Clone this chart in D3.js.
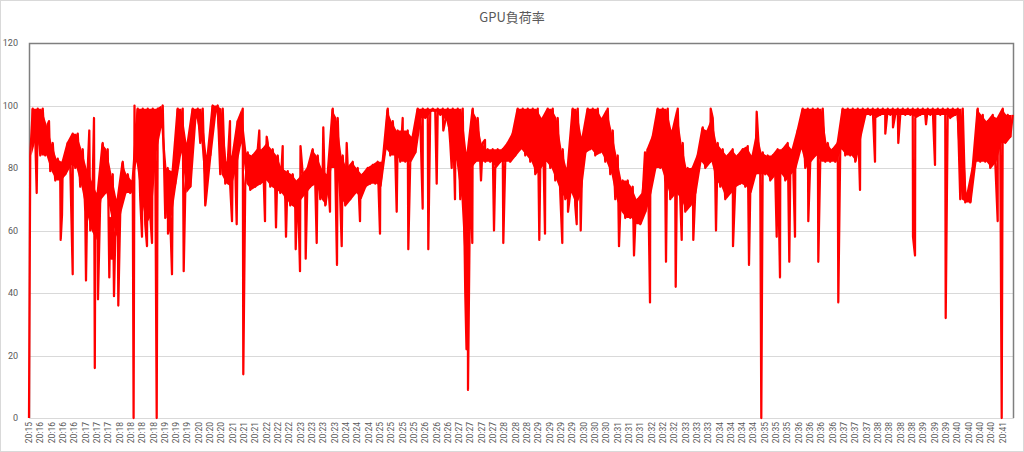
<!DOCTYPE html>
<html>
<head>
<meta charset="utf-8">
<script src="https://cdn.jsdelivr.net/npm/d3@7/dist/d3.min.js"></script>
<style>
  html, body { margin: 0; padding: 0; background: #fff; }
  svg { display: block; }
</style>
</head>
<body>
<svg id="chart" width="1024" height="452"></svg>
<script>
// category labels along the x axis (one every ~18 s)
var timeLabels = [
	'20:15',
	'20:16', '20:16', '20:16', '20:16',
	'20:17', '20:17', '20:17',
	'20:18', '20:18', '20:18', '20:18',
	'20:19', '20:19', '20:19',
	'20:20', '20:20', '20:20',
	'20:21', '20:21', '20:21',
	'20:22', '20:22', '20:22',
	'20:23', '20:23', '20:23', '20:23',
	'20:24', '20:24', '20:24',
	'20:25', '20:25', '20:25', '20:25',
	'20:26', '20:26', '20:26',
	'20:27', '20:27', '20:27', '20:27',
	'20:28', '20:28', '20:28',
	'20:29', '20:29', '20:29', '20:29',
	'20:30', '20:30', '20:30',
	'20:31', '20:31', '20:31',
	'20:32', '20:32', '20:32',
	'20:33', '20:33', '20:33',
	'20:34', '20:34', '20:34', '20:34',
	'20:35', '20:35', '20:35',
	'20:36', '20:36', '20:36', '20:36',
	'20:37', '20:37', '20:37',
	'20:38', '20:38', '20:38', '20:38',
	'20:39', '20:39', '20:39',
	'20:40', '20:40', '20:40', '20:40',
	'20:41'
];

var yTicks = [0, 20, 40, 60, 80, 100, 120];

// GPU load: the dense core band (low / high) per time bin
var coreLow = [
	84, 90, 84, 84, 79, 76, 76, 78, 81, 80,
	74, 66, 60, 57, 70, 72, 64, 58, 66, 72,
	72, 82, 70, 62, 65, 85, 93, 64, 64, 75,
	85, 72, 74, 96, 88, 68, 84, 98, 78, 75,
	74, 80, 88, 75, 73, 74, 75, 76, 74, 73,
	72, 70, 68, 67, 70, 72, 74, 75, 70, 68,
	80, 80, 70, 68, 70, 72, 70, 74, 75, 75,
	74, 86, 84, 84, 82, 82, 82, 85, 96, 96,
	98, 98, 97, 95, 88, 82, 70, 40, 80, 82,
	82, 82, 82, 80, 82, 82, 82, 84, 86, 84,
	82, 78, 80, 82, 80, 76, 72, 70, 72, 68,
	72, 85, 86, 84, 85, 82, 78, 70, 66, 64,
	64, 62, 62, 66, 72, 80, 80, 75, 70, 72,
	70, 66, 68, 72, 82, 80, 82, 76, 74, 70,
	72, 74, 75, 74, 72, 78, 78, 78, 76, 78,
	78, 76, 78, 80, 86, 80, 82, 84, 82, 82,
	82, 82, 86, 84, 84, 82, 90, 97, 97, 96,
	97, 97, 97, 97, 97, 97, 97, 96, 97, 97,
	97, 97, 97, 97, 96, 97, 70, 69, 69, 82,
	82, 82, 80, 82, 88, 88, 90
];
var coreHigh = [
	99, 99, 99, 94, 88, 83, 82, 88, 91, 91,
	86, 80, 76, 72, 88, 86, 78, 70, 82, 78,
	76, 99, 99, 99, 99, 99, 100, 80, 79, 99,
	99, 88, 99, 99, 99, 84, 100, 100, 99, 82,
	84, 95, 99, 85, 84, 86, 86, 88, 86, 84,
	80, 79, 78, 76, 78, 80, 86, 84, 80, 78,
	99, 96, 84, 80, 82, 80, 78, 80, 81, 82,
	82, 99, 95, 92, 92, 92, 90, 99, 99, 99,
	99, 99, 99, 99, 99, 99, 99, 85, 99, 96,
	88, 86, 86, 86, 86, 88, 91, 99, 99, 99,
	99, 99, 96, 99, 99, 96, 86, 80, 99, 99,
	90, 99, 99, 99, 96, 99, 92, 84, 76, 76,
	74, 70, 72, 86, 90, 99, 99, 99, 92, 99,
	88, 80, 80, 84, 93, 92, 96, 88, 86, 84,
	86, 84, 86, 87, 84, 92, 85, 84, 84, 86,
	86, 88, 86, 92, 99, 99, 99, 99, 99, 88,
	86, 88, 99, 99, 99, 99, 99, 99, 99, 99,
	99, 99, 99, 99, 99, 99, 99, 99, 99, 99,
	99, 99, 99, 99, 99, 99, 99, 72, 80, 99,
	97, 95, 97, 96, 99, 97, 97
];

// isolated spikes: position (in bins) and value
var spikeAt = [
	0, 1.54, 4.0, 6.34, 6.6, 8.74, 11.4, 12.06, 13.0, 13.16,
	13.8, 16.06, 16.54, 17.0, 17.86, 20.92, 21.1, 22.6, 23.6, 24.6,
	25.54, 27.8, 28.6, 30.94, 40.2, 40.6, 41.54, 42.86, 46.06, 47.2,
	47.54, 49.4, 50.74, 51.4, 53.34, 54.2, 54.3, 55.34, 57.54, 58.86,
	60.2, 61.6, 62.54, 63.54, 66.2, 70.2, 73.54, 74.74, 75.86, 78.74,
	79.86, 81.54, 82.86, 84.54, 85.2, 87.5, 87.8, 88.66, 90.4, 91.2,
	93.0, 94.86, 102.06, 103.2, 106.66, 107.8, 109.54, 110.34, 118.0, 121.0,
	123.2, 124.2, 127.4, 129.34, 130.54, 132.86, 136.34, 137.4, 140.8, 144.0,
	145.54, 146.46, 149.54, 150.2, 152.06, 153.2, 155.86, 157.86, 161.86, 166.2,
	169.2, 171.26, 172.8, 173.86, 176.8, 177.2, 179.4, 181.2, 183.34, 193.74,
	194.54
];
var spikeVal = [
	0, 72, 95, 57, 65, 46, 44, 92, 96, 16,
	38, 45, 51, 39, 36, 0, 100, 58, 55, 56,
	0, 59, 46, 47, 95, 63, 62, 14, 92, 63,
	90, 61, 87, 58, 54, 47, 87, 51, 56, 93,
	66, 49, 55, 88, 63, 59, 66, 96, 54, 67,
	54, 75, 92, 80, 70, 22, 9, 56, 76, 89,
	60, 56, 57, 59, 56, 66, 62, 60, 55, 52,
	85, 37, 50, 42, 57, 57, 99, 60, 55, 49,
	98, 0, 58, 45, 50, 58, 63, 50, 37, 73,
	82, 91, 93, 88, 58, 52, 94, 81, 32, 63,
	0
];

var width = 1024, height = 452;
var plot = { left: 29, right: 1014, top: 43, bottom: 418 };
var textColor = '#595959';
var lineColor = '#ff0000';

var svg = d3.select('#chart');

// outer chart border
svg.append('rect')
	.attr('x', 0.5).attr('y', 0.5)
	.attr('width', width - 1).attr('height', height - 1)
	.attr('fill', '#fff')
	.attr('stroke', '#d9d9d9');

var nBins = coreLow.length;
// x in bins of the series; labels sit every ~2.264 bins
var x = d3.scaleLinear()
	.domain([0, nBins])
	.range([plot.left, plot.right]);
var labelX = d3.scaleLinear()
	.domain([0, (plot.right - plot.left) / 11.32])
	.range([plot.left, plot.right]);
var y = d3.scaleLinear()
	.domain([0, 120])
	.range([plot.bottom, plot.top]);

// gridlines
svg.append('g')
	.selectAll('line')
	.data(yTicks.filter(function (d) { return d > 0 && d < 120; }))
	.join('line')
	.attr('x1', plot.left).attr('x2', plot.right)
	.attr('y1', function (d) { return Math.round(y(d)) + 0.5; })
	.attr('y2', function (d) { return Math.round(y(d)) + 0.5; })
	.attr('stroke', '#d9d9d9')
	.attr('stroke-width', 1);

// bottom axis line
svg.append('line')
	.attr('x1', plot.left).attr('x2', plot.right)
	.attr('y1', plot.bottom + 0.5).attr('y2', plot.bottom + 0.5)
	.attr('stroke', '#d9d9d9');

// plot area frame (top, left, right are dark)
svg.append('path')
	.attr('d', 'M' + (plot.left + 0.5) + ',' + plot.bottom +
		'V' + (plot.top + 0.5) + 'H' + (plot.right - 0.5) + 'V' + plot.bottom)
	.attr('fill', 'none')
	.attr('stroke', '#7f7f7f')
	.attr('stroke-width', 1.5);

// y labels
svg.append('g')
	.selectAll('text')
	.data(yTicks)
	.join('text')
	.attr('x', 18)
	.attr('y', function (d) { return y(d) + 3; })
	.attr('text-anchor', 'end')
	.attr('font-family', 'Roboto, "Noto Sans", sans-serif')
	.attr('font-size', 9)
	.attr('fill', textColor)
	.text(function (d) { return d; });

// x labels, rotated
svg.append('g')
	.selectAll('text')
	.data(timeLabels)
	.join('text')
	.attr('transform', function (d, i) {
		return 'translate(' + (labelX(i) + 3) + ',' + (plot.bottom + 4) + ') rotate(-90)';
	})
	.attr('text-anchor', 'end')
	.attr('font-family', '"Liberation Sans Narrow", Roboto, sans-serif')
	.attr('font-size', 8.5)
	.attr('fill', textColor)
	.text(function (d) { return d; });

// title
svg.append('text')
	.attr('x', width / 2)
	.attr('y', 22)
	.attr('text-anchor', 'middle')
	.attr('font-family', '"Noto Sans CJK JP", "Noto Sans", sans-serif')
	.attr('font-size', 13)
	.attr('fill', textColor)
	.text('GPU負荷率');

// dense core: filled band between low and high
var bins = coreLow.map(function (lo, i) { return { t: i + 0.5, lo: lo, hi: coreHigh[i] }; });
var band = d3.area()
	.x(function (d) { return x(d.t); })
	.y0(function (d) { return y(d.lo); })
	.y1(function (d) { return y(d.hi); });

svg.append('path')
	.datum(bins)
	.attr('d', band)
	.attr('fill', lineColor);

// the trace itself: swings through each bin plus the spikes
var points = [];
bins.forEach(function (b, i) {
	points.push({ t: i + 0.25, v: b.lo });
	points.push({ t: i + 0.75, v: b.hi });
});
spikeAt.forEach(function (t, i) {
	points.push({ t: t, v: spikeVal[i] });
});
points.sort(function (a, b) { return a.t - b.t; });

var line = d3.line()
	.x(function (d) { return x(d.t); })
	.y(function (d) { return y(d.v); });

svg.append('path')
	.datum(points)
	.attr('d', line)
	.attr('fill', 'none')
	.attr('stroke', lineColor)
	.attr('stroke-width', 2.25)
	.attr('stroke-linejoin', 'round');
</script>
</body>
</html>
